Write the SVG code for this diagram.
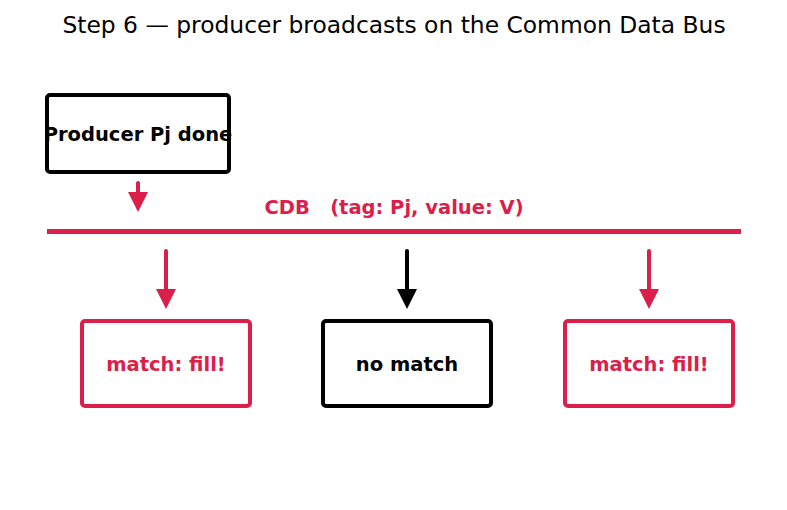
<svg xmlns="http://www.w3.org/2000/svg" width="787" height="510" viewBox="0 0 787 510">
<defs>
<style>
.box{fill:#fff;stroke-width:4;}
.blk{stroke:#000;}
.red{stroke:#dc1e4a;}
.lbl{font-family:"DejaVu Sans",sans-serif;font-weight:bold;font-size:19.5px;text-anchor:middle;dominant-baseline:central;white-space:pre;}
.conn{stroke-width:4;fill:none;stroke-linecap:round;}
</style>
<path id="head" d="M-10,0 L10,0 L0,20 z"/>
</defs>
<rect width="787" height="510" fill="#fff"/>
<text x="394" y="25" font-family="DejaVu Sans, sans-serif" font-size="23.4" text-anchor="middle" dominant-baseline="central">Step 6 — producer broadcasts on the Common Data Bus</text>
<g id="producer"><rect class="box blk" x="47" y="95" width="182" height="77" rx="3"/><text class="lbl" x="138" y="134">Producer Pj done</text></g>
<g id="cdb"><line x1="47" y1="231.5" x2="741" y2="231.5" stroke="#dc1e4a" stroke-width="5"/><text class="lbl" x="394" y="207" fill="#dc1e4a" xml:space="preserve">CDB   (tag: Pj, value: V)</text></g>
<g id="rs1"><rect class="box red" x="82" y="321" width="168" height="85" rx="3"/><text class="lbl" x="166" y="364" fill="#dc1e4a">match: fill!</text></g>
<g id="rs2"><rect class="box blk" x="323" y="321" width="168" height="85" rx="3"/><text class="lbl" x="407" y="364">no match</text></g>
<g id="rs3"><rect class="box red" x="565" y="321" width="168" height="85" rx="3"/><text class="lbl" x="649" y="364" fill="#dc1e4a">match: fill!</text></g>
<g id="connectors">
<line class="conn red" x1="138" y1="183" x2="138" y2="194"/>
<use href="#head" x="138" y="192" fill="#dc1e4a" transform="translate(0,0)"/>
<line class="conn red" x1="166" y1="251" x2="166" y2="292"/>
<use href="#head" x="166" y="289" fill="#dc1e4a"/>
<line class="conn blk" x1="407" y1="251" x2="407" y2="292"/>
<use href="#head" x="407" y="289" fill="#000"/>
<line class="conn red" x1="649" y1="251" x2="649" y2="292"/>
<use href="#head" x="649" y="289" fill="#dc1e4a"/>
</g>
</svg>
